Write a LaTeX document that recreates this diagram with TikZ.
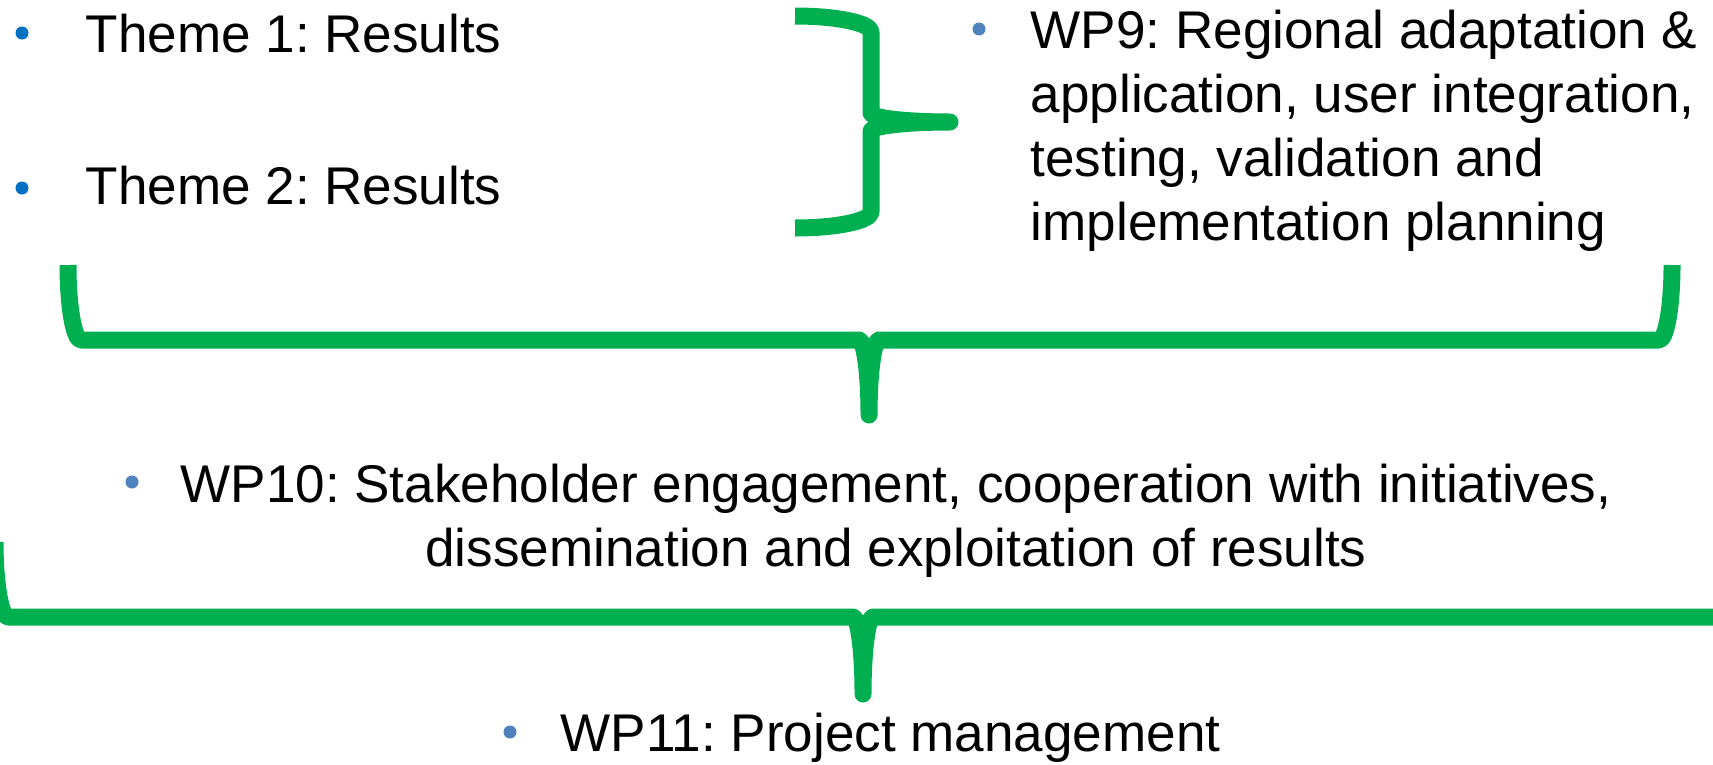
\documentclass[tikz,border=0pt]{standalone}
\usepackage{fontspec}
\setmainfont{Liberation Sans}
\frenchspacing
\definecolor{wpgreen}{RGB}{0,176,80}
\definecolor{themeblue}{RGB}{0,112,192}
\definecolor{wpblue}{RGB}{79,129,189}
\tikzset{
	brace/.style={line width=1.7mm, color=wpgreen, line join=round},
	bulletdot/.style={circle, inner sep=0pt, minimum size=1.3mm},
	wptext/.style={font=\fontsize{15.1}{18.14}\selectfont, inner sep=0pt}
}

\begin{document}
\begin{tikzpicture}
		%%%%% START %%%%%
		\useasboundingbox (0, 0) rectangle (17.13, 7.64);
		\clip (0, 0) rectangle (17.13, 7.64);
		
		% themes
		\node[bulletdot, fill=themeblue] (dot1) at (0.22, 7.31) {};
		\node[wptext, anchor=base west] (theme1) at (0.85, 7.12) {Theme 1: Results};
		\node[bulletdot, fill=themeblue] (dot2) at (0.22, 5.76) {};
		\node[wptext, anchor=base west] (theme2) at (0.85, 5.60) {Theme 2: Results};
		
		% WP9 (anchored on its last line)
		\node[bulletdot, fill=wpblue] (dot9) at (9.79, 7.35) {};
		\node[wptext, anchor=base west, align=left] (wpnine) at (10.30, 5.24)
			{WP9: Regional adaptation \&\\application, user integration,\\testing, validation and\\implementation planning};
		
		\draw[brace] (7.95, 7.48) arc[start angle=90, end angle=0, x radius=0.76, y radius=0.16]
			-- (8.71, 6.51) arc[start angle=180, end angle=270, x radius=0.79, y radius=0.09]
			arc[start angle=90, end angle=180, x radius=0.79, y radius=0.09]
			-- (8.71, 5.52) arc[start angle=0, end angle=-90, x radius=0.76, y radius=0.16];
		
		\draw[brace] (0.68, 4.99) arc[start angle=180, end angle=270, x radius=0.13, y radius=0.75]
			-- (8.59, 4.24) arc[start angle=90, end angle=0, x radius=0.10, y radius=0.75]
			arc[start angle=180, end angle=90, x radius=0.10, y radius=0.75]
			-- (16.59, 4.24) arc[start angle=270, end angle=360, x radius=0.13, y radius=0.75];
		
		% WP10 (anchored on its last line)
		\node[bulletdot, fill=wpblue] (dot10) at (1.32, 2.82) {};
		\node[wptext, anchor=base, align=center] (wpten) at (8.96, 1.98)
			{WP10: Stakeholder engagement, cooperation with initiatives,\\dissemination and exploitation of results};
		
		\draw[brace] (-0.05, 2.22) arc[start angle=180, end angle=270, x radius=0.13, y radius=0.75]
			-- (8.53, 1.47) arc[start angle=90, end angle=0, x radius=0.10, y radius=0.77]
			arc[start angle=180, end angle=90, x radius=0.10, y radius=0.77]
			-- (17.18, 1.47) arc[start angle=270, end angle=360, x radius=0.13, y radius=0.75];
		
		% WP11
		\node[bulletdot, fill=wpblue] (dot11) at (5.10, 0.32) {};
		\node[wptext, anchor=base west] (wpeleven) at (5.60, 0.13) {WP11: Project management};
		%%%%% END %%%%%
\end{tikzpicture}
\end{document}
